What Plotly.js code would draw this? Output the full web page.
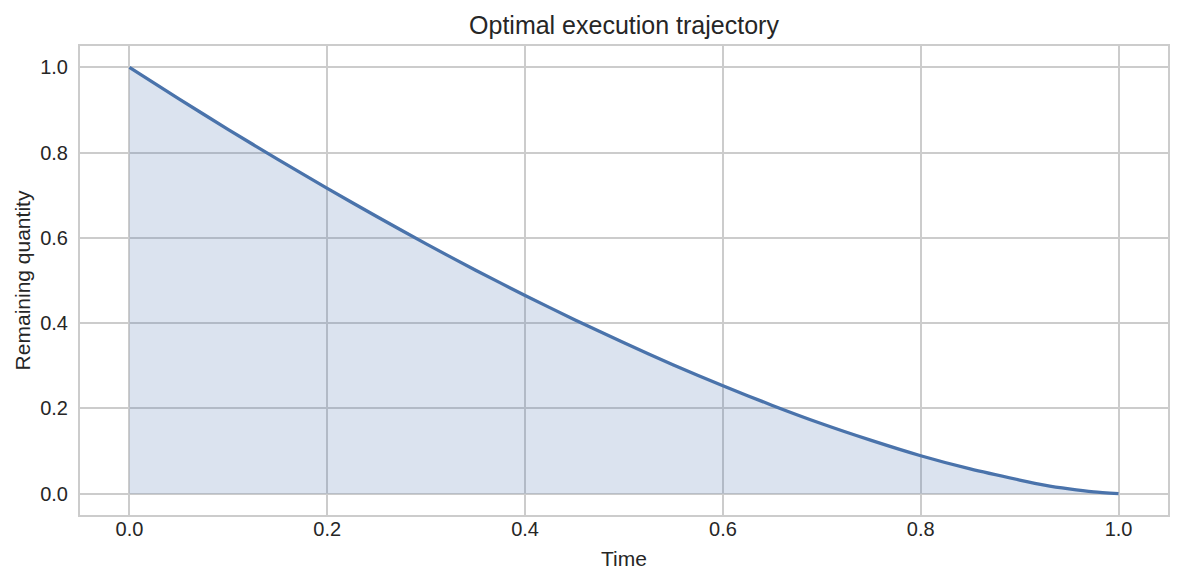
<!DOCTYPE html>
<html>
<head>
<meta charset="utf-8">
<script src="https://cdn.plot.ly/plotly-3.0.1.min.js"></script>
<style>
  html, body { margin: 0; padding: 0; background: #fff; }
  #chart { width: 1184px; height: 585px; }
</style>
</head>
<body>
<div id="chart"></div>
<script>
// time grid (fraction of horizon) and remaining quantity
var timeVals = [0.00, 0.05, 0.10, 0.15, 0.20, 0.25, 0.30, 0.35, 0.40, 0.45, 0.50,
                0.55, 0.60, 0.65, 0.70, 0.75, 0.80, 0.85, 0.90, 0.925, 0.95, 0.975, 1.00];
var remaining = [1.000, 0.926, 0.854, 0.784, 0.716, 0.650, 0.586, 0.524, 0.465, 0.408, 0.354,
                 0.302, 0.253, 0.207, 0.164, 0.125, 0.089, 0.058, 0.032, 0.020, 0.011, 0.004, 0.000];
var tickVals = [0, 0.2, 0.4, 0.6, 0.8, 1.0];

var titleText = "Optimal execution trajectory";
var xLabel = "Time";
var yLabel = "Remaining quantity";

var blue = "#4a73ab";
var txt = "#262626";
var grid = "#cccccc";
var fontFam = "Liberation Sans, Arial, sans-serif";

var traces = [{
  type: "scatter",
  mode: "lines",
  x: timeVals,
  y: remaining,
  fill: "tozeroy",
  fillcolor: "rgba(76,114,176,0.2)",
  line: { color: blue, width: 3.3, shape: "spline", smoothing: 0.6 },
  hoverinfo: "skip",
  showlegend: false
}];

var axisCommon = {
  range: [-0.05, 1.05],
  tickvals: tickVals,
  tickformat: ".1f",
  showgrid: true,
  gridcolor: grid,
  gridwidth: 2,
  zeroline: false,
  showline: true,
  mirror: true,
  linecolor: grid,
  linewidth: 2,
  ticks: "",
  tickfont: { size: 20, color: txt, family: fontFam }
};

var layout = {
  width: 1184,
  height: 585,
  paper_bgcolor: "#ffffff",
  plot_bgcolor: "#ffffff",
  font: { family: fontFam, color: txt },
  margin: { l: 80, r: 16, t: 46, b: 70, pad: 0 },
  title: {
    text: titleText,
    font: { size: 25, color: txt, family: fontFam },
    x: 0.527, xanchor: "center",
    y: 1 - 25 / 585, yref: "container", yanchor: "middle"
  },
  xaxis: Object.assign({}, axisCommon, {
    ticklabelstandoff: -5,
    title: { text: xLabel, font: { size: 21, color: txt, family: fontFam }, standoff: 12 }
  }),
  yaxis: Object.assign({}, axisCommon, {
    ticklabelstandoff: 6,
    title: { text: yLabel, font: { size: 21, color: txt, family: fontFam }, standoff: 4 }
  })
};

Plotly.newPlot("chart", traces, layout, { displayModeBar: false, staticPlot: true });
</script>
</body>
</html>
